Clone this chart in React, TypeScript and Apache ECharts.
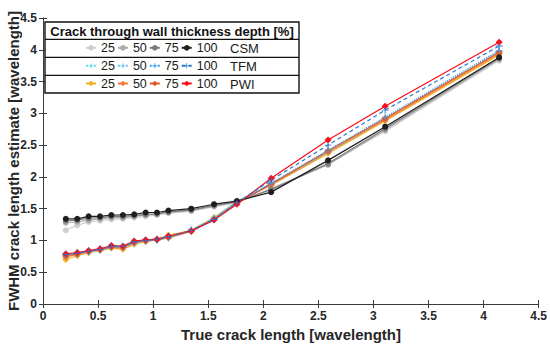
import React, { useEffect, useRef } from "react";
import * as echarts from "echarts";

const crackLength = [0.207, 0.311, 0.414, 0.518, 0.621, 0.725, 0.828, 0.932, 1.035, 1.139, 1.346, 1.553, 1.76, 2.071, 2.588, 3.106, 4.141];

const csm25 = [1.16, 1.24, 1.29, 1.31, 1.33, 1.34, 1.36, 1.38, 1.4, 1.43, 1.46, 1.53, 1.59, 1.82, 2.2, 2.72, 3.83];
const csm50 = [1.28, 1.29, 1.32, 1.34, 1.36, 1.36, 1.38, 1.4, 1.41, 1.44, 1.47, 1.54, 1.6, 1.81, 2.19, 2.74, 3.85];
const csm75 = [1.31, 1.32, 1.35, 1.36, 1.38, 1.38, 1.39, 1.41, 1.42, 1.45, 1.48, 1.55, 1.61, 1.8, 2.21, 2.76, 3.87];
const csm100 = [1.34, 1.34, 1.38, 1.38, 1.4, 1.4, 1.41, 1.44, 1.44, 1.47, 1.5, 1.57, 1.62, 1.76, 2.26, 2.79, 3.88];

const tfm25 = [0.76, 0.78, 0.82, 0.85, 0.89, 0.89, 0.96, 0.99, 1.0, 1.04, 1.15, 1.35, 1.62, 1.88, 2.39, 2.91, 3.97];
const tfm50 = [0.77, 0.79, 0.82, 0.85, 0.9, 0.89, 0.96, 0.99, 1.01, 1.05, 1.15, 1.35, 1.61, 1.89, 2.4, 2.92, 3.98];
const tfm75 = [0.77, 0.8, 0.83, 0.86, 0.9, 0.9, 0.97, 1.0, 1.01, 1.05, 1.16, 1.34, 1.6, 1.9, 2.42, 2.94, 3.99];
const tfm100 = [0.78, 0.8, 0.83, 0.86, 0.91, 0.91, 0.98, 1.0, 1.02, 1.06, 1.16, 1.33, 1.59, 1.95, 2.5, 3.05, 4.06];

const pwi25 = [0.7, 0.76, 0.81, 0.84, 0.88, 0.86, 0.94, 0.98, 1.02, 1.08, 1.16, 1.36, 1.61, 1.87, 2.37, 2.88, 3.92];
const pwi50 = [0.74, 0.78, 0.82, 0.85, 0.89, 0.88, 0.96, 0.99, 1.01, 1.04, 1.14, 1.34, 1.59, 1.88, 2.39, 2.9, 3.94];
const pwi75 = [0.76, 0.79, 0.83, 0.86, 0.9, 0.9, 0.97, 1.0, 1.01, 1.05, 1.15, 1.33, 1.58, 1.89, 2.41, 2.92, 3.96];
const pwi100 = [0.79, 0.81, 0.84, 0.87, 0.92, 0.91, 0.99, 1.01, 1.02, 1.07, 1.15, 1.32, 1.57, 1.98, 2.58, 3.11, 4.12];

const depths = ["25", "50", "75", "100"];
const legendTitle = "Crack through wall thickness depth [%]";
const xTitle = "True crack length [wavelength]";
const yTitle = "FWHM crack length estimate [wavelength]";

const PLUS = "path://M4.4,0H5.6V4.4H10V5.6H5.6V10H4.4V5.6H0V4.4H4.4Z";
const FONT = "Liberation Sans, Arial, sans-serif";

const groups = [
  { name: "CSM", data: [csm25, csm50, csm75, csm100], colors: ["#cfcfcf", "#ababab", "#7d7d7d", "#1e1e1e"], symbol: "circle", size: 6, dash: ["solid", "solid", "solid", "solid"] },
  { name: "PWI", data: [pwi25, pwi50, pwi75, pwi100], colors: ["#f2b01e", "#f47b3a", "#e2582a", "#ff0a14"], symbol: "diamond", size: 7, dash: ["solid", "solid", "solid", "solid"] },
  { name: "TFM", data: [tfm25, tfm50, tfm75, tfm100], colors: ["#62e0f2", "#72c6f2", "#3d9ff0", "#2a78d0"], symbol: PLUS, size: 7, dash: ["dotted", "dotted", "dotted", [4, 3]] },
];

export default function App() {
  const ref = useRef<HTMLDivElement>(null);
  useEffect(() => {
    if (!ref.current) return;
    const chart = echarts.init(ref.current, undefined, { renderer: "svg" });
    const series: any[] = [];
    groups.forEach((g) => {
      g.data.forEach((vals, i) => {
        series.push({
          name: g.name + " " + depths[i],
          type: "line",
          data: crackLength.map((x, k) => [x, vals[k]]),
          symbol: g.symbol,
          symbolSize: g.size,
          color: g.colors[i],
          itemStyle: { color: g.colors[i] },
          lineStyle: { color: g.colors[i], width: 1.2, type: g.dash[i] },
          z: 2 + i,
        });
      });
    });
    const rowCenters: Record<string, number> = { CSM: 48.3, TFM: 66.3, PWI: 84 };
    const legends = ["CSM", "TFM", "PWI"].map((gname) => ({
      data: depths.map((d) => gname + " " + d),
      orient: "horizontal",
      left: 85,
      top: rowCenters[gname] - 7,
      padding: 0,
      itemWidth: 10,
      itemHeight: 7,
      itemGap: 2,
      selectedMode: false,
      formatter: (n: string) => n.split(" ")[1],
      textStyle: { fontSize: 12.5, color: "#1a1a1a", fontFamily: FONT },
    }));
    const axisLine = { show: true, lineStyle: { color: "#3a3a3a", width: 1 } };
    const tickStyle = { show: true, inside: true, length: 4, lineStyle: { color: "#3a3a3a" } };
    const labelStyle = { fontSize: 12, fontWeight: "bold", color: "#262626", fontFamily: FONT };
    chart.setOption({
      animation: false,
      backgroundColor: "#ffffff",
      grid: { left: 43, right: 11, top: 18, bottom: 45, containLabel: false },
      xAxis: [
        { type: "value", min: 0, max: 4.5, interval: 0.5, axisLine, axisTick: tickStyle, splitLine: { show: false }, axisLabel: { ...labelStyle, margin: 6 } },
        { type: "value", position: "top", min: 0, max: 4.5, interval: 0.5, axisLine, axisTick: tickStyle, splitLine: { show: false }, axisLabel: { show: false } },
      ],
      yAxis: [
        { type: "value", min: 0, max: 4.5, interval: 0.5, axisLine, axisTick: tickStyle, splitLine: { show: false }, axisLabel: { ...labelStyle, margin: 6 } },
        { type: "value", position: "right", min: 0, max: 4.5, interval: 0.5, axisLine, axisTick: tickStyle, splitLine: { show: false }, axisLabel: { show: false } },
      ],
      legend: legends,
      series,
      graphic: [
        { type: "rect", z: 100, shape: { x: 45, y: 22, width: 254, height: 71 }, style: { fill: "rgba(255,255,255,0)", stroke: "#111", lineWidth: 1.4 }, silent: true },
        { type: "rect", z: 1, shape: { x: 45, y: 22, width: 254, height: 71 }, style: { fill: "#ffffff" }, silent: true },
        { type: "line", z: 100, shape: { x1: 45, y1: 39.3, x2: 299, y2: 39.3 }, style: { stroke: "#111", lineWidth: 1.2 } },
        { type: "line", z: 100, shape: { x1: 45, y1: 57.3, x2: 299, y2: 57.3 }, style: { stroke: "#111", lineWidth: 1.2 } },
        { type: "line", z: 100, shape: { x1: 45, y1: 75.3, x2: 299, y2: 75.3 }, style: { stroke: "#111", lineWidth: 1.2 } },
        { type: "text", z: 100, x: 172, y: 31, style: { text: legendTitle, font: "bold 13px " + FONT, fill: "#111", align: "center", verticalAlign: "middle" } },
        ...["CSM", "TFM", "PWI"].map((g) => ({ type: "text", z: 100, x: 230, y: rowCenters[g], style: { text: g, font: "13px " + FONT, fill: "#1a1a1a", align: "left", verticalAlign: "middle" } })),
        { type: "text", x: 291, y: 334, style: { text: xTitle, font: "bold 15px " + FONT, fill: "#262626", align: "center", verticalAlign: "middle" } },
        { type: "text", x: 13, y: 161, rotation: Math.PI / 2, style: { text: yTitle, font: "bold 15px " + FONT, fill: "#262626", align: "center", verticalAlign: "middle" } },
      ],
    });
    return () => chart.dispose();
  }, []);
  return <div ref={ref} style={{ width: 550, height: 349, position: "absolute", left: 0, top: 0 }} />;
}
